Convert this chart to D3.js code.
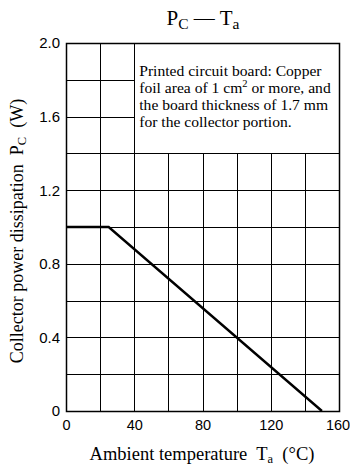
<!DOCTYPE html>
<html>
<head>
<meta charset="utf-8">
<script src="https://cdn.jsdelivr.net/npm/d3@7"></script>
<style>
	body { margin: 0; background: #fff; }
	svg { display: block; font-family: 'Liberation Serif', 'DejaVu Serif', serif; }
	svg text { white-space: pre; }
</style>
</head>
<body>
<div id="box"></div>
<script>
// curve points: ambient temperature (°C) vs collector power dissipation (W)
const temps = [0, 25, 150];
const power = [1.0, 1.0, 0];

const xTicks = [0, 40, 80, 120, 160];
const yTicks = [0, 0.4, 0.8, 1.2, 1.6, 2.0];
const xGrid = [20, 40, 60, 80, 100, 120, 140];
const yGrid = [0.2, 0.4, 0.6, 0.8, 1.0, 1.2, 1.4, 1.6, 1.8];

const noteLines = [
	['Printed circuit board: Copper'],
	['foil area of 1 cm', '2', ' or more, and'],
	['the board thickness of 1.7 mm'],
	['for the collector portion.'],
];

const width = 350;
const height = 471;
const marginTop = 43;
const marginRight = 11;
const marginBottom = 60;
const marginLeft = 66;

const x = d3.scaleLinear([0, 160], [marginLeft, width - marginRight]);
const y = d3.scaleLinear([0, 2.0], [height - marginBottom, marginTop]);

const svg = d3.select('#box').append('svg')
	.attr('width', width)
	.attr('height', height)
	.attr('viewBox', [0, 0, width, height]);

// grid, with the note area (40..160, 1.4..2.0) left clear
const grid = svg.append('g').attr('stroke', '#000').attr('stroke-width', 1).attr('shape-rendering', 'crispEdges');

grid.selectAll('.vx')
	.data(xGrid)
	.join('line')
	.attr('x1', d => Math.round(x(d)) + 0.5)
	.attr('x2', d => Math.round(x(d)) + 0.5)
	.attr('y1', y(0))
	.attr('y2', d => d > 40 ? y(1.4) : y(2.0));

grid.selectAll('.hy')
	.data(yGrid)
	.join('line')
	.attr('y1', d => Math.round(y(d)) + 0.5)
	.attr('y2', d => Math.round(y(d)) + 0.5)
	.attr('x1', x(0))
	.attr('x2', d => d > 1.4 ? x(40) : x(160));

svg.append('rect')
	.attr('x', x(0) + 0.5)
	.attr('y', y(2.0) + 0.5)
	.attr('width', x(160) - x(0))
	.attr('height', y(0) - y(2.0))
	.attr('fill', 'none')
	.attr('stroke', '#000')
	.attr('stroke-width', 1.5);

// axes
const xAxis = d3.axisBottom(x).tickValues(xTicks).tickSize(0).tickPadding(9).tickFormat(d3.format('d'));
const yAxis = d3.axisLeft(y).tickValues(yTicks).tickSize(0).tickPadding(6).tickFormat(d => d === 0 ? '0' : d3.format('.1f')(d));

svg.append('g')
	.attr('transform', `translate(0,${y(0)})`)
	.call(xAxis)
	.call(g => g.select('.domain').remove())
	.call(g => g.selectAll('text').attr('font-size', 14.5).attr('fill', '#000').attr('font-family', null))
	// keep the last label inside the window
	.call(g => g.selectAll('text').filter(d => d === 160).attr('dx', -1.5));

svg.append('g')
	.attr('transform', `translate(${x(0)},0)`)
	.call(yAxis)
	.call(g => g.select('.domain').remove())
	.call(g => g.selectAll('text').attr('font-size', 15).attr('fill', '#000').attr('font-family', null));

// derating curve
const line = d3.line()
	.x((_, i) => x(temps[i]))
	.y((_, i) => y(power[i]));

svg.append('path')
	.attr('fill', 'none')
	.attr('stroke', '#000')
	.attr('stroke-width', 2.4)
	.attr('d', line(temps));

// note text
const note = svg.append('text')
	.attr('font-size', 15.6)
	.attr('fill', '#000');
noteLines.forEach((parts, i) => {
	const t = note.append('tspan')
		.attr('x', x(40) + 5)
		.attr('y', 76 + i * 17);
	parts.forEach((p, j) => {
		if (j === 1) {
			t.append('tspan').attr('font-size', 10.5).attr('dy', -6).text(p);
		} else if (j === 2) {
			t.append('tspan').attr('dy', 6).text(p);
		} else {
			t.append('tspan').text(p);
		}
	});
});

// title
const title = svg.append('text')
	.attr('x', 203)
	.attr('y', 25)
	.attr('text-anchor', 'middle')
	.attr('font-size', 21);
title.append('tspan').text('P');
title.append('tspan').attr('font-size', 15.5).attr('dy', 4).text('C');
title.append('tspan').attr('dy', -4).text(' \u2014 T');
title.append('tspan').attr('font-size', 15.5).attr('dy', 4).text('a');

// x label
const xl = svg.append('text')
	.attr('x', 202)
	.attr('y', 460)
	.attr('text-anchor', 'middle')
	.attr('font-size', 18.5);
xl.append('tspan').text('Ambient temperature  T');
xl.append('tspan').attr('font-size', 12.5).attr('dy', 3).text('a');
xl.append('tspan').attr('dy', -3).text('  (\u00b0C)');

// y label
const yl = svg.append('text')
	.attr('transform', `translate(23,231) rotate(-90)`)
	.attr('text-anchor', 'middle')
	.attr('font-size', 18);
yl.append('tspan').text('Collector power dissipation  P');
yl.append('tspan').attr('font-size', 12.5).attr('dy', 3).text('C');
yl.append('tspan').attr('dy', -3).text('  (W)');
</script>
</body>
</html>
